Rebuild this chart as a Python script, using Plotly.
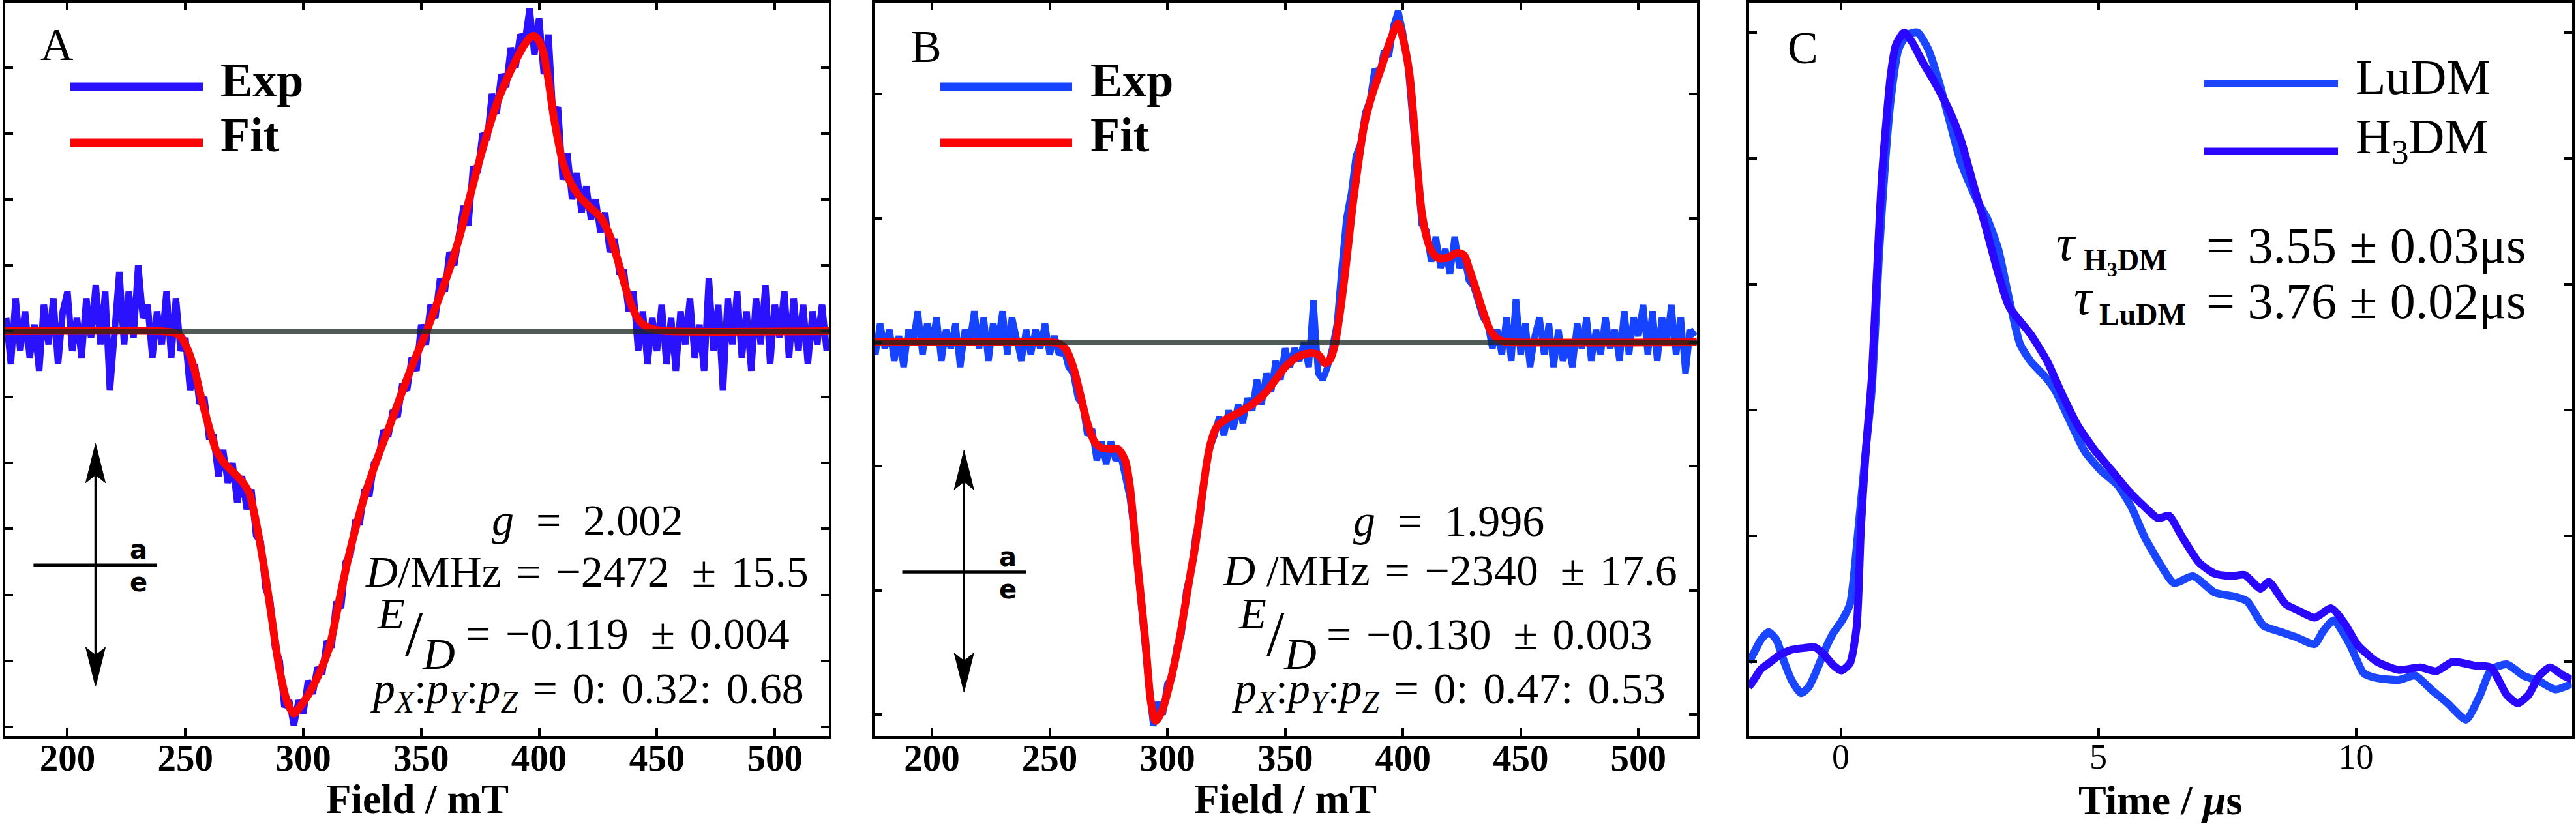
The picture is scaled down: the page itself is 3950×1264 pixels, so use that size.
import plotly.graph_objects as go

W, H = 3950, 1264

# ---------------- data ----------------
# Panel A (Field / mT vs EPR signal, arbitrary units)
field_exp_a = list(range(174, 524, 2))
exp_a = [0.2, -0.5, 0.5, -0.3, 0.3, -0.4, 0.1, -0.6, 0.4, -0.2,
         0.5, -0.5, 0.3, 0.6, -0.3, 0.2, -0.4, 0.5, -0.1, 0.7,
         -0.2, 0.6, -0.9, 0.1, 0.9, -0.2, 0.6, -0.1, 1.0, 0.2,
         0.4, -0.4, 0.3, -0.2, 0.6, -0.4, 0.5, -0.3, -0.1, -0.9,
         -0.5, -1.1, -1.0, -1.6, -1.6, -2.2, -1.8, -2.3, -2.0, -2.6,
         -2.2, -2.7, -2.4, -3.1, -3.2, -3.9, -4.1, -4.8, -5.0, -5.7,
         -5.6, -5.98, -5.6, -5.8, -5.3, -5.5, -5.1, -5.2, -4.7, -4.8,
         -4.1, -4.2, -3.5, -3.4, -2.9, -2.9, -2.4, -2.5, -2.0, -1.9,
         -1.5, -1.6, -1.2, -1.3, -0.8, -0.9, -0.4, -0.6, 0.1, -0.2,
         0.4, 0.2, 0.8, 0.6, 1.2, 1.0, 1.5, 1.9, 1.6, 2.5,
         2.4, 3.0, 2.9, 3.6, 3.3, 3.9, 3.7, 4.3, 4.0, 4.5,
         4.4, 4.9, 4.2, 4.75, 3.9, 4.5, 3.2, 3.4, 2.3, 2.7,
         2.0, 2.4, 1.8, 2.2, 1.7, 2.0, 1.5, 1.8, 1.2, 1.4,
         0.9, 0.9, 0.3, 0.6, -0.3, 0.3, -0.5, 0.2, -0.3, 0.4,
         -0.5, 0.2, -0.6, 0.3, -0.2, 0.5, -0.4, 0.1, -0.6, 0.8,
         -0.3, 0.4, -0.9, 0.5, -0.2, 0.6, -0.4, 0.3, -0.6, 0.5,
         -0.2, 0.7, -0.5, 0.4, -0.1, 0.6, -0.4, 0.5, -0.3, 0.4,
         -0.5, 0.3, -0.2, 0.4, -0.3]
fit_field_a = [173.6, 240, 245, 248, 251, 254, 257, 260, 263, 266, 270, 274, 277, 280,
               283, 286, 290, 293, 296, 299, 302, 306, 311, 316, 320, 326, 332, 337,
               342, 347, 352, 357, 362, 366, 370, 374, 378, 382, 386, 390, 393, 396,
               398, 400, 402, 404, 406, 408, 410, 413, 417, 421, 426, 430, 434, 437,
               440, 443, 446, 450, 455, 522.9]
fit_a = [0, 0, -0.02, -0.08, -0.28, -0.6, -1.05, -1.45, -1.8, -1.98, -2.13, -2.28, -2.45, -2.9,
         -3.5, -4.2, -5.15, -5.6, -5.8, -5.68, -5.52, -5.25, -4.8, -3.95, -3.3, -2.5, -1.87, -1.4,
         -0.91, -0.45, -0.02, 0.45, 0.94, 1.4, 1.95, 2.5, 3.0, 3.45, 3.8, 4.1, 4.3, 4.45,
         4.48, 4.4, 4.2, 3.8, 3.3, 2.9, 2.57, 2.28, 2.05, 1.9, 1.73, 1.45, 1.0, 0.62,
         0.32, 0.14, 0.06, 0.02, 0, 0]

# Panel B
field_exp_b = list(range(174, 526, 2))
exp_b = [0.1, -0.1, 0.15, -0.05, 0.1, -0.15, 0.05, -0.2, 0.1, 0.0,
         0.25, -0.1, 0.15, 0.0, 0.2, -0.15, 0.1, -0.05, 0.15, -0.2,
         0.1, 0.0, 0.25, -0.05, 0.2, -0.15, 0.15, 0.0, 0.25, -0.1,
         0.2, 0.05, -0.15, 0.1, -0.1, 0.1, -0.05, 0.15, -0.1, 0.05,
         -0.1, -0.05, -0.2, -0.25, -0.45, -0.5, -0.75, -0.7, -0.95, -0.8,
         -0.98, -0.8, -0.95, -0.9, -1.1, -1.25, -1.55, -2.0, -2.3, -2.75,
         -3.09, -2.9, -3.0, -2.75, -2.7, -2.45, -2.35, -2.0, -1.85, -1.55,
         -1.4, -1.05, -0.85, -0.75, -0.6, -0.75, -0.55, -0.7, -0.5, -0.65,
         -0.45, -0.55, -0.3, -0.5, -0.25, -0.4, -0.15, -0.3, -0.05, -0.2,
         -0.05, -0.15, 0.0, -0.2, 0.34, -0.25, -0.3, -0.2, -0.05, 0.15,
         0.6, 1.0, 1.2, 1.5, 1.6, 1.85, 1.95, 2.2, 2.15, 2.35,
         2.3, 2.55, 2.67, 2.5, 2.25, 1.85, 1.45, 0.95, 0.9, 0.65,
         0.85, 0.6, 0.75, 0.55, 0.85, 0.6, 0.7, 0.5, 0.45, 0.3,
         0.2, 0.15, -0.05, 0.1, -0.1, 0.2, -0.15, 0.35, -0.1, 0.15,
         -0.2, 0.05, 0.2, -0.1, 0.15, -0.2, 0.1, -0.15, 0.0, -0.2,
         0.15, -0.05, 0.2, -0.15, 0.1, -0.1, 0.2, -0.05, 0.1, -0.15,
         0.25, -0.1, 0.2, 0.05, 0.3, -0.1, 0.25, -0.15, 0.2, 0.0,
         0.3, -0.1, 0.2, -0.25, 0.1, 0.05]
fit_field_b = [175.7, 250, 254, 257, 260, 263, 266, 269, 272, 276, 279, 282, 284, 287,
               290.6, 293, 295, 297.5, 301, 305, 309, 312, 315, 318, 321, 325, 331, 336,
               341, 346, 350, 355, 360, 364, 367, 369, 371, 373, 375.4, 379, 383.7, 387,
               391, 395, 398, 400, 402.8, 405, 406.4, 408, 410, 412, 414.7, 419, 423, 426,
               428, 431, 434, 437, 440, 443, 446, 524.8]
fit_b = [0, 0, -0.01, -0.06, -0.2, -0.42, -0.65, -0.8, -0.85, -0.86, -0.86, -0.95, -1.15, -1.73,
         -2.4, -2.9, -3.05, -2.98, -2.75, -2.4, -1.95, -1.62, -1.2, -0.84, -0.68, -0.62, -0.56, -0.5,
         -0.42, -0.3, -0.2, -0.12, -0.09, -0.1, -0.17, -0.14, -0.03, 0.2, 0.55, 1.15, 1.76, 2.0,
         2.22, 2.45, 2.57, 2.45, 2.16, 1.7, 1.35, 1.05, 0.85, 0.74, 0.68, 0.68, 0.72, 0.7,
         0.6, 0.43, 0.25, 0.1, 0.03, 0.005, 0, 0]

# Panel C (Time / us vs normalised signal)
time_ludm = [-1.79, -1.72, -1.55, -1.40, -1.25, -1.10, -0.95, -0.77, -0.62, -0.45, -0.30, -0.15,
             0.02, 0.18, 0.34, 0.49, 0.60, 0.75, 0.86, 0.97, 1.12, 1.28, 1.49, 1.70, 1.91, 2.12,
             2.33, 2.64, 2.85, 3.06, 3.27, 3.48, 3.69, 4.01, 4.17, 4.48, 4.74, 5.06, 5.37, 5.64,
             5.90, 6.21, 6.47, 6.84, 7.26, 7.68, 7.89, 8.21, 8.52, 8.84, 9.20, 9.36, 9.57, 9.89,
             10.15, 10.41, 10.83, 11.15, 11.46, 11.78, 12.14, 12.41, 12.62, 12.93, 13.25, 13.56,
             13.87, 14.19]
ludm = [0.0, 0.009, 0.035, 0.047, 0.035, 0.0, -0.03, -0.05, -0.04, -0.01, 0.02, 0.045,
        0.065, 0.092, 0.21, 0.34, 0.43, 0.655, 0.79, 0.893, 0.973, 0.996, 1.0, 0.973, 0.921, 0.857,
        0.794, 0.734, 0.703, 0.655, 0.576, 0.505, 0.477, 0.449, 0.43, 0.377, 0.334, 0.303, 0.281, 0.246,
        0.198, 0.154, 0.125, 0.136, 0.11, 0.103, 0.096, 0.057, 0.048, 0.039, 0.028, 0.048, 0.066, 0.026,
        -0.018, -0.026, -0.029, -0.022, -0.044, -0.066, -0.092, -0.053, -0.013, -0.004, -0.022, -0.031,
        -0.044, -0.035]
time_h3dm = [-1.79, -1.72, -1.55, -1.39, -1.20, -0.96, -0.70, -0.50, -0.33, -0.15, 0.01, 0.18,
             0.31, 0.39, 0.49, 0.60, 0.70, 0.80, 0.97, 1.07, 1.23, 1.39, 1.59, 1.85, 2.12, 2.33,
             2.59, 2.80, 3.06, 3.27, 3.69, 4.01, 4.27, 4.59, 4.95, 5.27, 5.58, 5.90, 6.16, 6.37,
             6.63, 6.95, 7.26, 7.58, 7.84, 8.15, 8.31, 8.63, 8.94, 9.20, 9.52, 9.78, 10.04, 10.41,
             10.83, 11.25, 11.56, 11.88, 12.30, 12.62, 12.93, 13.14, 13.35, 13.56, 13.77, 14.03, 14.19]
h3dm = [-0.04, -0.033, -0.012, -0.002, 0.01, 0.019, 0.022, 0.023, 0.012, -0.005, -0.014, -0.002,
        0.057, 0.21, 0.34, 0.45, 0.616, 0.774, 0.933, 0.98, 1.0, 0.984, 0.953, 0.917, 0.874, 0.83,
        0.754, 0.695, 0.616, 0.564, 0.52, 0.477, 0.43, 0.377, 0.334, 0.303, 0.272, 0.246, 0.228, 0.232,
        0.198, 0.158, 0.14, 0.136, 0.138, 0.116, 0.127, 0.092, 0.079, 0.07, 0.085, 0.061, 0.026, 0.0,
        -0.013, -0.009, -0.015, 0.0, -0.006, -0.009, -0.053, -0.066, -0.053, -0.022, -0.009, -0.022, -0.028]

field_ticks = [200, 250, 300, 350, 400, 450, 500]
time_ticks = [0, 5, 10]

# ---------------- style ----------------
C_EXP_A = "#2b12ff"
C_EXP_B = "#1543ff"
C_FIT = "#fa0505"
C_LU = "#1a46ff"
C_H3 = "#2a07ff"
SERIF = "Liberation Serif"
S3 = "\u2004"   # three-per-em space
S2 = "\u2002"   # en space


def px(x):
    return x / W


def py(y):
    return 1 - y / H


fig = go.Figure()
fig.add_trace(go.Scatter(x=field_exp_a, y=exp_a, mode="lines", line=dict(color=C_EXP_A, width=10),
                         xaxis="x", yaxis="y", showlegend=False))
fig.add_trace(go.Scatter(x=fit_field_a, y=fit_a, mode="lines", line=dict(color=C_FIT, width=12, shape="spline", smoothing=0.8),
                         xaxis="x", yaxis="y", showlegend=False))
fig.add_trace(go.Scatter(x=field_exp_b, y=exp_b, mode="lines", line=dict(color=C_EXP_B, width=10),
                         xaxis="x2", yaxis="y2", showlegend=False))
fig.add_trace(go.Scatter(x=fit_field_b, y=fit_b, mode="lines", line=dict(color=C_FIT, width=12, shape="spline", smoothing=0.8),
                         xaxis="x2", yaxis="y2", showlegend=False))
fig.add_trace(go.Scatter(x=time_ludm, y=ludm, mode="lines", line=dict(color=C_LU, width=12, shape="spline", smoothing=0.6),
                         xaxis="x3", yaxis="y3", showlegend=False))
fig.add_trace(go.Scatter(x=time_h3dm, y=h3dm, mode="lines", line=dict(color=C_H3, width=12, shape="spline", smoothing=0.6),
                         xaxis="x3", yaxis="y3", showlegend=False))

ydom = [py(1129), py(3.5)]
common = dict(showline=True, linecolor="black", linewidth=4, mirror="ticks", ticks="inside",
              ticklen=12, tickwidth=4, tickcolor="black", showgrid=False, zeroline=False)
tick_ab = dict(family=SERIF, size=57, color="black", weight="bold")
tick_c = dict(family=SERIF, size=54, color="black")

fig.update_layout(
    width=W, height=H, margin=dict(l=0, r=0, t=0, b=0),
    paper_bgcolor="white", plot_bgcolor="white", showlegend=False,
    xaxis=dict(domain=[px(8), px(1271)], range=[173.6, 522.9], anchor="y", tickvals=field_ticks,
               tickfont=tick_ab, ticklabelstandoff=-19, **common),
    yaxis=dict(domain=ydom, range=[-6.14, 4.99], anchor="x", dtick=1, tick0=0, showticklabels=False, **common),
    xaxis2=dict(domain=[px(1341.3), px(2601.8)], range=[175.7, 524.8], anchor="y2", tickvals=field_ticks,
                tickfont=tick_ab, ticklabelstandoff=-19, **common),
    yaxis2=dict(domain=ydom, range=[-3.172, 2.739], anchor="x2", dtick=1, tick0=0, showticklabels=False, **common),
    xaxis3=dict(domain=[px(2681.5), px(3943.5)], range=[-1.786, 14.19], anchor="y3", tickvals=time_ticks,
                tickfont=tick_c, ticklabelstandoff=-19, **common),
    yaxis3=dict(domain=ydom, range=[-0.118, 1.048], anchor="x3", dtick=0.2, tick0=0, showticklabels=False, **common),
)

shapes = []
# zero reference lines (drawn above, semi-transparent)
for xr, yr in [("x domain", "y"), ("x2 domain", "y2")]:
    shapes.append(dict(type="line", xref=xr, yref=yr, x0=0, x1=1, y0=0, y1=0, layer="above",
                       line=dict(color="rgba(22,36,32,0.75)", width=8)))


def hline(x0, x1, y, color, width):
    shapes.append(dict(type="line", xref="paper", yref="paper", x0=px(x0), x1=px(x1), y0=py(y), y1=py(y),
                       line=dict(color=color, width=width), layer="above"))


# legends
hline(108, 311, 133, C_EXP_A, 13)
hline(108, 311, 219, C_FIT, 13)
hline(1442, 1644, 133, C_EXP_B, 13)
hline(1442, 1644, 219, C_FIT, 13)
hline(3380, 3585, 128.5, C_LU, 11)
hline(3380, 3585, 232, C_H3, 11)


def arrow(xc, ytop, ybot, hx0, hx1, hy):
    shapes.append(dict(type="line", xref="paper", yref="paper", x0=px(xc), x1=px(xc), y0=py(ytop + 40), y1=py(ybot - 40),
                       line=dict(color="black", width=3.5)))
    hw, hl, notch = 15, 60, 12
    for tip, sgn in [(ytop, 1), (ybot, -1)]:
        path = "M {} {} L {} {} L {} {} L {} {} Z".format(
            px(xc), py(tip), px(xc - hw), py(tip + sgn * hl), px(xc), py(tip + sgn * (hl - notch)),
            px(xc + hw), py(tip + sgn * hl))
        shapes.append(dict(type="path", xref="paper", yref="paper", path=path,
                           fillcolor="black", line=dict(color="black", width=1)))
    shapes.append(dict(type="line", xref="paper", yref="paper", x0=px(hx0), x1=px(hx1), y0=py(hy), y1=py(hy),
                       line=dict(color="black", width=4.5)))


arrow(146.5, 680.5, 1053, 51.4, 240.5, 866.8)
arrow(1478.2, 691, 1061.7, 1383.5, 1573.8, 877.4)
fig.update_layout(shapes=shapes)

ann = []


def text(t, x, y, size, xanchor="center", family=SERIF, weight="normal", yanchor="middle"):
    ann.append(dict(text=t, x=px(x), y=py(y), xref="paper", yref="paper", xanchor=xanchor, yanchor=yanchor,
                    showarrow=False, font=dict(family=family, size=size, color="black", weight=weight)))


# panel letters
text("A", 87, 69, 70)
text("B", 1420, 72, 70)
text("C", 2764, 74, 70)
# legend texts
text("Exp", 336, 123, 74, xanchor="left", weight="bold")
text("Fit", 336, 207, 74, xanchor="left", weight="bold")
text("Exp", 1670, 123, 74, xanchor="left", weight="bold")
text("Fit", 1670, 207, 74, xanchor="left", weight="bold")
text("LuDM", 3610, 118, 76, xanchor="left")
text("H<sub>3</sub>DM", 3610, 215, 76, xanchor="left")
# a / e markers
text("a", 212, 843.5, 40, family="DejaVu Sans", weight="bold")
text("e", 212, 893, 40, family="DejaVu Sans", weight="bold")
text("a", 1545, 854, 40, family="DejaVu Sans", weight="bold")
text("e", 1545, 904, 40, family="DejaVu Sans", weight="bold")

EQ = 68
EQ_EQ = S3 + "=" + S3
EQ_WIDE = S2 + "=" + S2
PM = S2 + "±" + S3
PXYZ = "<i>p</i><sub><i>X</i></sub>:<i>p</i><sub><i>Y</i></sub>:<i>p</i><sub><i>Z</i></sub>"
FRAC = "<sup><i>E</i></sup>/<sub><i>D</i></sub>"
# panel A parameters
text("<i>g</i>" + EQ_WIDE + "2.002", 900, 798, EQ)
text("<i>D</i>/MHz" + EQ_EQ + "−2472" + PM + "15.5", 900, 877, EQ)
text(FRAC, 576, 972, 98, xanchor="left")
text("=" + S3 + "−0.119" + PM + "0.004", 712, 972, EQ, xanchor="left")
text(PXYZ + EQ_EQ + "0:" + S3 + "0.32:" + S3 + "0.68", 900, 1060, EQ)
# panel B parameters
text("<i>g</i>" + EQ_WIDE + "1.996", 2221, 799, EQ)
text("<i>D</i> /MHz" + EQ_EQ + "−2340" + PM + "17.6", 2223, 875, EQ)
text(FRAC, 1897, 972, 98, xanchor="left")
text("=" + S3 + "−0.130" + PM + "0.003", 2032, 973, EQ, xanchor="left")
text(PXYZ + EQ_EQ + "0:" + S3 + "0.47:" + S3 + "0.53", 2221, 1060, EQ)
# panel C lifetimes
text("<i>τ</i>", 3168, 372, 78)
text("H<sub>3</sub>DM", 3193, 402, 46, xanchor="left", weight="bold")
text("= 3.55 ± 0.03μs", 3381, 377, 78, xanchor="left")
text("<i>τ</i>", 3195, 456, 78)
text("LuDM", 3217, 483, 46, xanchor="left", weight="bold")
text("= 3.76 ± 0.02μs", 3381, 461, 78, xanchor="left")
# axis titles
text("Field / mT", 640, 1226, 63, weight="bold")
text("Field / mT", 1971, 1226, 63, weight="bold")
text("Time / <i>μ</i>s", 3312, 1227, 64, weight="bold")

fig.update_layout(annotations=ann)
fig.write_html("out.html")
